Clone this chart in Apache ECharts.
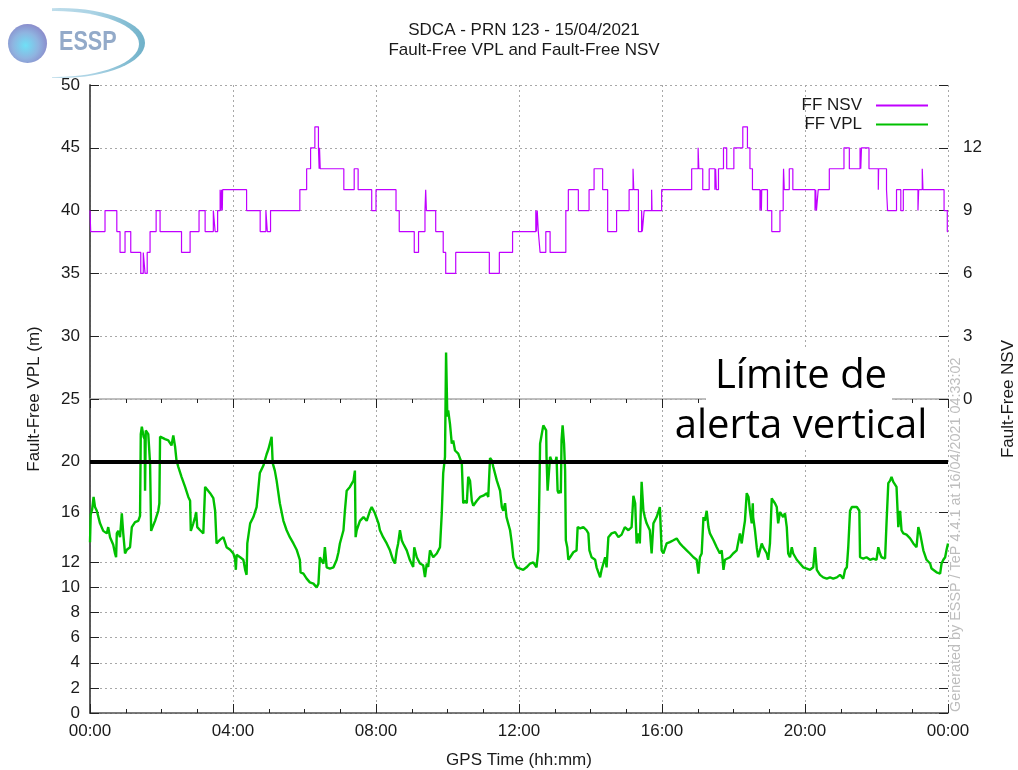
<!DOCTYPE html>
<html><head><meta charset="utf-8">
<script src="https://cdn.jsdelivr.net/npm/echarts@6/dist/echarts.min.js"></script>
<style>html,body{margin:0;padding:0;background:#fff}#c{width:1018px;height:770px}</style>
</head><body><div id="c"></div>
<script>
// ---- data ----
const xTickHours = [0, 4, 8, 12, 16, 20, 24];
const xTickLabels = ['00:00', '04:00', '08:00', '12:00', '16:00', '20:00', '00:00'];
const vplTickValues = [0, 2, 4, 6, 8, 10, 12, 16, 20, 25, 30, 35, 40, 45, 50];
const nsvTickValues = [0, 3, 6, 9, 12];
const alertLimit = 20;
const titleLines = ['SDCA - PRN 123 - 15/04/2021', 'Fault-Free VPL and Fault-Free NSV'];

// [hour, number of satellites] - value holds until the next change
const nsvSteps = [[0,9],[0.02,8],[0.42,9],[0.75,8],[0.84,7],[0.98,8],[1.14,7],[1.42,6],[1.49,7],[1.54,6],[1.60,7],[1.68,8],[1.85,9],[1.96,8],[2.56,7],[2.80,8],[3.05,9],[3.22,8],[3.45,9],[3.50,8],[3.57,9],[3.64,10],[3.66,9],[3.68,10],[3.70,9],[3.71,10],[4.38,9],[4.76,8],[4.92,9],[4.96,8],[5.05,9],[5.87,10],[6.06,11],[6.17,12],[6.29,13],[6.39,12],[6.41,11],[6.42,12],[6.44,11],[7.10,10],[7.39,11],[7.50,10],[7.88,9],[8.00,10],[8.56,9],[8.65,8],[9.07,7],[9.19,8],[9.37,9],[9.39,10],[9.41,9],[9.67,8],[9.88,7],[9.95,6],[10.23,7],[11.17,6],[11.45,7],[11.82,8],[12.47,9],[12.49,8],[12.51,9],[12.54,8],[12.59,7],[12.75,8],[12.87,7],[13.31,9],[13.38,10],[13.66,9],[13.96,10],[14.10,11],[14.34,10],[14.48,8],[14.73,9],[15.08,10],[15.19,11],[15.21,10],[15.34,8],[15.43,9],[15.45,8],[15.50,9],[15.71,10],[15.72,9],[15.99,10],[16.83,11],[17.01,12],[17.03,11],[17.14,10],[17.32,11],[17.48,10],[17.50,11],[17.52,10],[17.58,11],[17.72,12],[17.81,11],[18.01,12],[18.26,13],[18.39,12],[18.46,11],[18.53,10],[18.74,9],[18.76,10],[18.78,9],[18.79,10],[18.95,9],[19.07,8],[19.30,9],[19.39,10],[19.40,11],[19.42,10],[19.56,11],[19.66,10],[20.28,9],[20.30,10],[20.32,9],[20.37,10],[20.68,11],[21.09,12],[21.24,11],[21.54,12],[21.56,11],[21.58,12],[21.79,11],[22.05,10],[22.06,11],[22.28,10],[22.31,9],[22.56,10],[22.68,9],[22.75,10],[23.16,9],[23.18,10],[23.28,11],[23.30,10],[23.89,9],[23.98,8],[24.0,8]];

// [hour, VPL in metres]
const vplPoints = [[0.00,13.6],[0.02,15.8],[0.06,16.2],[0.10,17.2],[0.14,16.4],[0.19,16.1],[0.28,15.1],[0.37,14.5],[0.47,14.3],[0.51,14.8],[0.56,14.0],[0.65,13.4],[0.70,12.7],[0.73,12.4],[0.75,14.3],[0.79,14.5],[0.84,14.0],[0.89,15.9],[0.93,14.3],[0.98,12.7],[1.03,13.0],[1.12,13.2],[1.17,14.8],[1.26,15.2],[1.35,15.3],[1.40,15.7],[1.42,22.2],[1.45,22.8],[1.50,22.0],[1.53,21.8],[1.54,17.7],[1.56,22.5],[1.63,22.2],[1.68,19.9],[1.71,14.5],[1.75,14.8],[1.82,15.3],[1.91,16.1],[1.94,16.7],[1.96,22.0],[2.00,22.1],[2.10,21.8],[2.19,21.7],[2.28,21.3],[2.33,22.1],[2.38,21.2],[2.42,20.1],[2.47,19.6],[2.56,18.8],[2.66,18.0],[2.75,17.2],[2.80,16.9],[2.82,14.5],[2.89,15.1],[2.94,15.6],[2.97,16.0],[3.00,14.8],[3.08,14.55],[3.17,14.3],[3.22,18.0],[3.26,17.9],[3.36,17.5],[3.45,17.1],[3.50,16.1],[3.54,13.5],[3.64,13.8],[3.73,14.0],[3.82,13.2],[3.92,13.0],[4.01,12.7],[4.06,12.2],[4.08,11.4],[4.10,12.6],[4.20,12.4],[4.29,12.2],[4.34,11.4],[4.38,11.0],[4.40,13.5],[4.48,15.1],[4.57,15.6],[4.66,16.4],[4.75,19.1],[4.85,19.7],[4.89,20.1],[4.94,20.6],[4.99,21.0],[5.03,20.9],[5.08,22.0],[5.11,19.9],[5.17,19.3],[5.22,18.5],[5.31,16.7],[5.41,15.3],[5.50,14.55],[5.59,14.0],[5.69,13.5],[5.78,13.0],[5.87,12.2],[5.89,11.2],[5.97,11.1],[6.06,10.7],[6.15,10.4],[6.25,10.3],[6.34,10.0],[6.39,10.3],[6.43,12.4],[6.53,11.9],[6.57,13.2],[6.62,11.6],[6.71,11.5],[6.81,11.6],[6.90,12.2],[6.95,12.8],[6.99,13.5],[7.09,14.55],[7.13,16.1],[7.18,17.7],[7.27,18.0],[7.37,18.5],[7.41,19.3],[7.43,14.0],[7.46,14.55],[7.55,15.3],[7.65,15.6],[7.74,15.3],[7.83,16.1],[7.88,16.4],[7.97,15.9],[8.07,15.1],[8.11,14.55],
[8.20,14.0],[8.30,13.5],[8.39,12.95],[8.48,12.16],[8.53,11.9],[8.58,12.95],[8.62,13.5],[8.67,14.55],[8.72,13.75],[8.76,13.5],[8.86,12.95],[8.95,12.16],[9.04,11.63],[9.07,13.2],[9.14,12.4],[9.23,11.9],[9.32,11.76],[9.37,10.83],[9.42,11.9],[9.46,11.63],[9.51,12.95],[9.60,12.4],[9.70,12.7],[9.79,13.2],[9.84,15.9],[9.88,19.1],[9.93,20.4],[9.96,28.7],[9.995,23.6],[10.02,24.1],[10.07,23.0],[10.12,21.45],[10.16,21.7],[10.21,20.9],[10.30,20.65],[10.35,20.5],[10.40,19.9],[10.44,16.7],[10.49,16.9],[10.54,16.7],[10.58,18.8],[10.63,18.5],[10.68,16.9],[10.72,16.5],[10.82,16.9],[10.91,17.2],[11.00,17.3],[11.10,17.5],[11.14,17.2],[11.19,20.3],[11.24,20.1],[11.28,19.6],[11.38,18.5],[11.47,17.7],[11.52,16.4],[11.56,16.1],[11.61,16.7],[11.65,15.6],[11.75,14.55],[11.80,13.5],[11.84,12.4],[11.89,11.9],[11.94,11.6],[12.03,11.5],[12.12,11.4],[12.21,11.6],[12.31,11.9],[12.40,12.0],[12.49,11.6],[12.54,12.95],[12.57,17.7],[12.59,21.45],[12.63,22.1],[12.68,22.9],[12.73,22.8],[12.76,22.5],[12.77,20.4],[12.80,17.7],[12.84,17.7],[12.87,20.4],[12.91,20.1],[12.96,20.0],[13.01,19.9],[13.05,20.4],[13.08,17.7],[13.11,17.5],[13.15,17.7],[13.17,17.5],[13.19,21.7],[13.22,22.9],[13.26,21.45],[13.29,19.3],[13.31,13.75],[13.35,13.2],[13.38,12.2],[13.43,12.4],[13.52,12.8],[13.61,12.95],[13.64,14.8],[13.71,14.7],[13.80,14.8],[13.89,14.55],[13.94,14.3],[13.97,12.95],[14.03,12.4],[14.13,12.2],[14.17,11.6],[14.27,10.8],[14.31,11.4],[14.36,11.9],[14.41,12.4],[14.45,11.6],[14.50,14.0],[14.59,14.3],[14.69,14.4],[14.78,14.0],[14.87,14.2],[14.96,14.8],[15.06,14.55],[15.15,14.8],[15.20,17.3],[15.25,16.7],[15.29,13.5],[15.34,14.3],[15.38,13.5],[15.43,18.4],[15.48,16.1],[15.52,15.6],[15.57,15.1],[15.66,14.55],[15.71,12.7],[15.76,15.1],[15.85,15.6],[15.94,16.4],[15.99,12.95],[16.04,12.7],
[16.13,13.5],[16.22,13.6],[16.32,13.75],[16.41,13.9],[16.50,13.5],[16.60,13.2],[16.69,12.95],[16.78,12.7],[16.88,12.4],[16.97,12.2],[17.02,11.1],[17.06,12.4],[17.11,12.7],[17.16,15.6],[17.20,15.3],[17.25,16.1],[17.30,14.8],[17.34,14.3],[17.44,13.75],[17.53,13.2],[17.62,12.7],[17.67,12.95],[17.72,11.4],[17.76,12.2],[17.90,12.4],[17.99,12.7],[18.09,12.95],[18.18,14.3],[18.23,13.5],[18.28,14.55],[18.32,15.3],[18.37,17.5],[18.42,17.2],[18.46,16.1],[18.51,15.1],[18.54,16.7],[18.55,15.6],[18.60,14.55],[18.65,13.2],[18.69,12.4],[18.74,12.95],[18.79,13.5],[18.83,13.2],[18.93,12.7],[18.97,12.2],[19.02,13.5],[19.07,17.1],[19.11,16.9],[19.16,16.7],[19.21,16.4],[19.25,15.1],[19.30,16.0],[19.39,15.6],[19.44,15.9],[19.49,14.8],[19.53,12.7],[19.58,12.4],[19.63,13.2],[19.67,12.7],[19.77,12.2],[19.86,11.9],[19.95,11.6],[20.05,11.5],[20.14,11.4],[20.23,11.6],[20.28,13.2],[20.33,11.4],[20.42,11.0],[20.51,10.8],[20.61,10.7],[20.70,10.8],[20.79,10.7],[20.89,10.8],[20.98,11.0],[21.07,10.7],[21.12,11.4],[21.17,11.6],[21.21,13.2],[21.26,16.1],[21.31,16.4],[21.35,16.3],[21.45,16.4],[21.52,16.1],[21.54,12.4],[21.63,12.3],[21.72,12.4],[21.82,12.2],[21.91,12.3],[22.00,12.2],[22.05,13.2],[22.10,12.7],[22.14,12.4],[22.24,12.3],[22.28,15.1],[22.33,18.3],[22.38,18.5],[22.42,18.8],[22.47,18.4],[22.52,18.3],[22.56,18.0],[22.61,14.8],[22.66,16.1],[22.70,14.55],[22.75,14.3],[22.84,14.2],[22.94,13.9],[23.03,13.5],[23.12,13.2],[23.17,14.8],[23.22,14.3],[23.31,12.95],[23.40,12.2],[23.50,11.9],[23.54,11.5],[23.59,11.4],[23.68,11.2],[23.78,11.1],[23.82,11.9],[23.87,12.2],[23.92,12.4],[23.96,13.0],[24.00,13.5]];

// ---- chart ----
const FONT = 'Liberation Sans';
const FS = 17;
const TXT = '#1a1a1a';
const AX = '#505050';
const gridLine = { show: true, lineStyle: { color: '#a8a8a8', width: 1, type: [2, 3] } };
const xFmt = v => { const i = xTickHours.indexOf(v); return i >= 0 ? xTickLabels[i] : ''; };

const chart = echarts.init(document.getElementById('c'), null, { renderer: 'canvas' });
chart.setOption({
  animation: false,
  backgroundColor: '#fff',
  title: {
    text: titleLines.join('\n'), left: 519, top: 15, textAlign: 'center',
    textStyle: { fontFamily: FONT, fontSize: FS, fontWeight: 'normal', color: TXT, lineHeight: 20 }
  },
  grid: { left: 90, right: 70, top: 85, bottom: 57, outerBoundsMode: 'none', containLabel: false },
  legend: {
    data: [{ name: 'FF NSV', icon: 'rect' }, { name: 'FF VPL', icon: 'rect' }],
    orient: 'vertical', right: 85, top: 92, align: 'right',
    itemWidth: 52, itemHeight: 2, itemGap: 2,
    textStyle: { fontFamily: FONT, fontSize: FS, color: TXT, padding: [0, 9, 0, 0] }
  },
  xAxis: [
    {
      type: 'value', min: 0, max: 24, interval: 4, position: 'bottom',
      axisLine: { show: true, lineStyle: { color: AX, width: 1.5 } },
      axisTick: { show: true, inside: true, length: 9, lineStyle: { color: '#222' } },
      minorTick: { show: true, splitNumber: 4, length: 4, lineStyle: { color: '#222' } },
      axisLabel: { formatter: xFmt, fontFamily: FONT, fontSize: FS, color: TXT, margin: 10 },
      splitLine: gridLine,
      name: 'GPS Time (hh:mm)', nameLocation: 'middle', nameGap: 39,
      nameTextStyle: { fontFamily: FONT, fontSize: FS, color: TXT }
    },
    {
      type: 'value', min: 0, max: 24, interval: 4, position: 'top',
      axisLine: { show: true, lineStyle: { color: '#aaa', width: 1.5 } },
      axisTick: { show: true, inside: true, length: 9, lineStyle: { color: '#222' } },
      minorTick: { show: true, splitNumber: 4, length: 4, lineStyle: { color: '#222' } },
      axisLabel: { show: false }, splitLine: { show: false }
    }
  ],
  yAxis: [
    {
      type: 'value', min: 0, max: 50, interval: 2, position: 'left',
      axisLine: { show: true, lineStyle: { color: AX, width: 1.5 } },
      axisTick: { show: true, inside: true, length: 9, customValues: vplTickValues, lineStyle: { color: '#222' } },
      axisLabel: { customValues: vplTickValues, fontFamily: FONT, fontSize: FS, color: TXT, margin: 10 },
      splitLine: gridLine,
      name: 'Fault-Free VPL (m)', nameLocation: 'middle', nameGap: 47,
      nameTextStyle: { fontFamily: FONT, fontSize: FS, color: TXT }
    },
    {
      type: 'value', min: -15, max: 15, interval: 3, position: 'right',
      axisLine: { show: true, lineStyle: { color: AX, width: 1.5 } },
      axisTick: { show: false },
      axisLabel: { customValues: nsvTickValues, fontFamily: FONT, fontSize: FS, color: TXT, margin: 15 },
      splitLine: { show: false },
      name: 'Fault-Free NSV', nameLocation: 'middle', nameGap: 52,
      nameTextStyle: { fontFamily: FONT, fontSize: FS, color: TXT }
    },
    {
      type: 'value', min: 0, max: 50, interval: 2, position: 'right',
      axisLine: { show: false },
      axisTick: { show: true, inside: true, length: 9, customValues: vplTickValues, lineStyle: { color: '#222' } },
      axisLabel: { show: false }, splitLine: { show: false }
    }
  ],
  series: [
    {
      name: 'FF NSV', type: 'line', yAxisIndex: 1, step: 'end', data: nsvSteps,
      symbol: 'none', color: '#c000ff', lineStyle: { width: 1.2, color: '#c000ff' }, z: 3
    },
    {
      name: 'FF VPL', type: 'line', yAxisIndex: 0, data: vplPoints,
      symbol: 'none', color: '#00c000', lineStyle: { width: 2.4, color: '#00c000' }, z: 2,
      markLine: {
        symbol: 'none', silent: true, label: { show: false },
        lineStyle: { color: '#000', width: 4, type: 'solid' },
        data: [{ yAxis: alertLimit }]
      }
    }
  ],
  graphic: [
    // ESSP logo
    { type: 'ellipse', shape: { cx: 60, cy: 43, rx: 85, ry: 35 },
      style: { fill: { type: 'linear', x: 0, y: 0, x2: 1, y2: 0, colorStops: [{ offset: 0, color: '#e8f3f8' }, { offset: 0.7, color: '#a9d2e4' }, { offset: 1, color: '#6fb1c9' }] } } },
    { type: 'ellipse', shape: { cx: 55, cy: 44, rx: 84, ry: 33 }, style: { fill: '#fff' } },
    { type: 'rect', shape: { x: 0, y: 0, width: 52, height: 84 }, style: { fill: '#fff' } },
    { type: 'circle', shape: { cx: 27.5, cy: 43.5, r: 19.5 },
      style: { fill: { type: 'radial', x: 0.45, y: 0.55, r: 0.6, colorStops: [{ offset: 0, color: '#6fe0f6' }, { offset: 0.55, color: '#8fb4e0' }, { offset: 1, color: '#8a86c8' }] } } },
    { type: 'text', x: 59, y: 43, scaleX: 0.8, style: { text: 'ESSP', font: 'bold 27px "Liberation Sans"', fill: '#93aac9', textVerticalAlign: 'middle', verticalAlign: 'middle' } },
    // annotation box
    { type: 'rect', z: 100, shape: { x: 706, y: 350, width: 186, height: 100 }, style: { fill: '#fff' } },
    { type: 'text', z: 101, x: 801, y: 377, style: { text: 'Límite de', font: '40px "Open Sans"', fill: '#000', textAlign: 'center', align: 'center', textVerticalAlign: 'middle', verticalAlign: 'middle' } },
    { type: 'text', z: 101, x: 801, y: 427, style: { text: 'alerta vertical', font: '40px "Open Sans"', fill: '#000', textAlign: 'center', align: 'center', textVerticalAlign: 'middle', verticalAlign: 'middle' } },
    // generator stamp
    { type: 'text', z: 101, x: 956, y: 712, rotation: Math.PI / 2,
      style: { text: 'Generated by ESSP / TeP 4.4.1 at 16/04/2021 04:33:02', font: '14.4px "Liberation Sans"', fill: '#bdbdbd', textAlign: 'left', align: 'left', textVerticalAlign: 'middle', verticalAlign: 'middle' } }
  ]
});
</script>
</body></html>
